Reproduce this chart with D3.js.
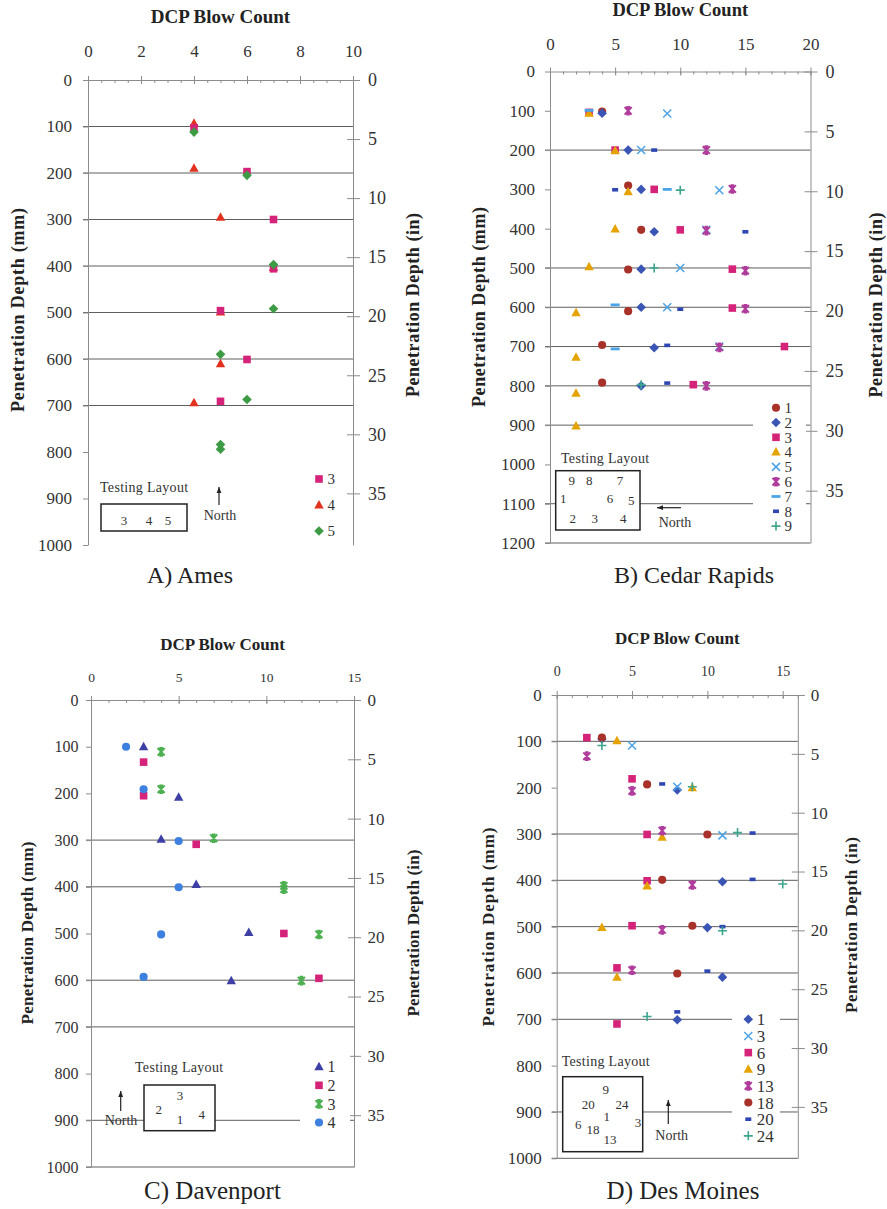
<!DOCTYPE html>
<html>
<head>
<meta charset="utf-8">
<script src="https://cdn.jsdelivr.net/npm/d3@7"></script>
<style>
  body { margin: 0; background: #fff; }
  svg { display: block; font-family: 'Liberation Serif', 'Times New Roman', serif; }
</style>
</head>
<body>
<script>
// ---- data: [blow count, penetration depth (mm)] ----
// A) Ames
const ames3 = [[4,103],[6,197],[7,300],[7,406],[5,496],[6,601],[5,691]];
const ames4 = [[4,93],[4,190],[5,295],[7,403],[5,499],[5,610],[4,694]];
const ames5 = [[4,112],[6,205],[7,397],[7,492],[5,590],[6,687],[5,784],[5,794]];

// B) Cedar Rapids
const cr1 = [[4,102],[6,290],[7,403],[6,504],[6,610],[4,696],[4,792]];
const cr2 = [[4,106],[6,200],[7,300],[8,408],[7,503],[7,600],[8,703],[7,800]];
const cr3 = [[3,104],[5,200],[8,300],[10,403],[14,503],[14,602],[18,700],[11,797]];
const cr4 = [[3,106],[5,202],[6,306],[5,401],[3,497],[2,614],[2,727],[2,819],[2,902]];
const cr5 = [[9,107],[7,200],[13,302],[12,403],[10,500],[9,600],[13,700]];
const cr6 = [[6,100],[12,200],[14,299],[12,405],[15,507],[15,604],[13,702],[12,800]];
const cr7 = [[3,99],[9,300],[5,594],[5,706]];
const cr8 = [[8,200],[5,301],[15,408],[10,605],[9,697],[9,793]];
const cr9 = [[10,302],[8,500],[7,797]];

// C) Davenport
const dv1 = [[3,100],[5,208],[4,298],[6,395],[9,498],[8,601]];
const dv2 = [[3,133],[3,205],[6,309],[11,500],[13,596]];
const dv3 = [[4,111],[4,191],[7,296],[11,398],[11,405],[13,502],[12,601]];
const dv4 = [[2,100],[3,191],[5,302],[5,401],[4,502],[3,593]];

// D) Des Moines
const dm1 = [[3,95],[8,205],[11,403],[10,502],[11,609],[8,701]];
const dm3 = [[5,109],[8,198],[11,303]];
const dm6 = [[2,92],[5,181],[6,301],[6,401],[5,498],[4,589],[4,710]];
const dm9 = [[4,99],[9,200],[7,307],[6,412],[3,502],[4,609]];
const dm13 = [[2,132],[5,207],[7,293],[9,410],[7,507],[5,594]];
const dm18 = [[3,92],[6,193],[10,301],[7,399],[9,498],[8,601]];
const dm20 = [[7,192],[13,298],[13,398],[11,500],[10,596],[8,684]];
const dm24 = [[3,109],[9,198],[12,297],[15,408],[11,509],[6,694]];

// horizontal lines visible in each panel (mm)
const amesGrid = [100, 200, 300, 400, 500, 600, 700];
const crGrid = [200, 500, 600, 700, 800, 900, 1100, 1200];
const dvGrid = [300, 400, 600, 700, 900, 1000];
const dmGrid = [100, 300, 400, 500, 600, 700, 900, 1000];

const inchTicks = [0, 5, 10, 15, 20, 25, 30, 35];

// ---- marker shapes ----
const shapes = {
  square: 'M-3.8,-3.8H3.8V3.8H-3.8Z',
  triangle: 'M0,-5L4.7,3.5H-4.7Z',
  diamond: 'M0,-4.8L4.8,0L0,4.8L-4.8,0Z',
  circle: d3.symbol(d3.symbolCircle, 52)(),
  x: 'M-4,-4L4,4M-4,4L4,-4',
  star: 'M-3.5,-3.8L3.5,3.8M-3.5,3.8L3.5,-3.8M-1.8,-3.8H1.8M-1.8,3.8H1.8M0,-3.8V3.8',
  plus: 'M-4.5,0H4.5M0,-4.5V4.5',
  dash: 'M-4.5,-1.4H4.5V1.4H-4.5Z',
  sdash: 'M-3,-1.8H3V1.8H-3Z'
};
const stroked = { x: 1.5, star: 2, plus: 1.6 };

const C = {
  pink: '#d6237a', red: '#e2321f', green: '#3d9b45', darkred: '#a8322a',
  blue: '#3b55b5', orange: '#e5a300', sky: '#4aa3e6', purple: '#b03c9c',
  navy: '#2f47b3', teal: '#3ea58f', indigo: '#3d3fa5', lime: '#4caf50', azure: '#3d80e0'
};

const width = 887, height = 1209;
const svg = d3.select('body').append('svg')
  .attr('width', width)
  .attr('height', height);

const panels = [
  {
    left: 88, right: 353, top: 80, bottom: 545, xMax: 10, xStep: 2, minor: 0.5, yMax: 1000,
    grid: amesGrid,
    titleY: 22.5, titleSize: 19, topLabY: 56.5, topSize: 17, leftSize: 17, leftPad: 16, rightSize: 18, rightPad: 15,
    yTitleL: [18, 310, 204], yTitleR: [413, 305, 184], yTitleSize: 18,
    name: 'A) Ames', nameX: 190, nameY: 583, nameSize: 24,
    series: [
      { label: '3', shape: 'square', color: C.pink, data: ames3 },
      { label: '4', shape: 'triangle', color: C.red, data: ames4 },
      { label: '5', shape: 'diamond', color: C.green, data: ames5 }
    ],
    drawOrder: [1, 0, 2],
    legend: { x: 319, y: 479, dy: 26, size: 15 },
    layout: {
      title: [100, 492], box: [101, 504, 86, 27],
      nums: [['3', 124, 525], ['4', 149, 525], ['5', 168, 525]],
      arrow: [219, 505, 219, 487], north: [220, 520]
    }
  },
  {
    left: 550, right: 810.5, top: 71.5, bottom: 543, xMax: 20, xStep: 5, minor: 1, yMax: 1200,
    grid: crGrid,
    titleY: 16, titleSize: 18.5, topLabY: 50, topSize: 17, leftSize: 17, leftPad: 15, rightSize: 18, rightPad: 15,
    yTitleL: [479, 307, 200], yTitleR: [876, 305, 185], yTitleSize: 18,
    name: 'B) Cedar Rapids', nameX: 694, nameY: 583, nameSize: 24,
    series: [
      { label: '1', shape: 'circle', color: C.darkred, data: cr1 },
      { label: '2', shape: 'diamond', color: C.blue, data: cr2 },
      { label: '3', shape: 'square', color: C.pink, data: cr3 },
      { label: '4', shape: 'triangle', color: C.orange, data: cr4 },
      { label: '5', shape: 'x', color: C.sky, data: cr5 },
      { label: '6', shape: 'star', color: C.purple, data: cr6 },
      { label: '7', shape: 'dash', color: C.sky, data: cr7 },
      { label: '8', shape: 'sdash', color: C.navy, data: cr8 },
      { label: '9', shape: 'plus', color: C.teal, data: cr9 }
    ],
    legendBg: [753, 398, 53, 138],
    legend: { x: 776, y: 407.7, dy: 14.8, size: 15 },
    layout: {
      title: [561, 463], box: [555.7, 470.7, 84.3, 59.3],
      nums: [['9', 571.7, 484.5], ['8', 589.3, 484.5], ['7', 620, 484.5],
             ['1', 563.3, 503], ['6', 610, 503], ['5', 631.3, 505],
             ['2', 572.7, 523], ['3', 594.7, 523], ['4', 623.3, 523]],
      arrow: [681, 507.7, 657, 507.7], north: [675, 527]
    }
  },
  {
    left: 91, right: 354, top: 700, bottom: 1167, xMax: 15, xStep: 5, minor: 1, yMax: 1000,
    grid: dvGrid,
    titleY: 650, titleSize: 17, topLabY: 682, topSize: 13.5, leftSize: 16, leftPad: 12.5, rightSize: 17, rightPad: 13.5,
    yTitleL: [27, 933, 183], yTitleR: [413, 933, 167], yTitleSize: 17,
    name: 'C) Davenport', nameX: 212.5, nameY: 1199, nameSize: 25,
    series: [
      { label: '1', shape: 'triangle', color: C.indigo, data: dv1 },
      { label: '2', shape: 'square', color: C.pink, data: dv2 },
      { label: '3', shape: 'star', color: C.lime, data: dv3 },
      { label: '4', shape: 'circle', color: C.azure, data: dv4 }
    ],
    legendBg: [300, 1052, 50, 82],
    legend: { x: 319, y: 1066.7, dy: 18.6, size: 16 },
    layout: {
      title: [135, 1072], box: [144, 1085, 71, 45.7],
      nums: [['3', 180, 1099.5], ['2', 158.7, 1113.8], ['1', 180, 1123.8], ['4', 201.7, 1118.8]],
      arrow: [120.7, 1111, 120.7, 1091], north: [121, 1124.5]
    }
  },
  {
    left: 556.7, right: 797.8, top: 695, bottom: 1158.3, xMax: 16, xStep: 5, minor: 1, yMax: 1000,
    grid: dmGrid,
    titleY: 644, titleSize: 17, topLabY: 676, topSize: 14, leftSize: 17, leftPad: 15, rightSize: 17, rightPad: 13,
    yTitleL: [488, 927, 199], yTitleR: [851, 925, 176], yTitleSize: 17,
    name: 'D) Des Moines', nameX: 683, nameY: 1199, nameSize: 25,
    series: [
      { label: '1', shape: 'diamond', color: C.blue, data: dm1 },
      { label: '3', shape: 'x', color: C.sky, data: dm3 },
      { label: '6', shape: 'square', color: C.pink, data: dm6 },
      { label: '9', shape: 'triangle', color: C.orange, data: dm9 },
      { label: '13', shape: 'star', color: C.purple, data: dm13 },
      { label: '18', shape: 'circle', color: C.darkred, data: dm18 },
      { label: '20', shape: 'sdash', color: C.navy, data: dm20 },
      { label: '24', shape: 'plus', color: C.teal, data: dm24 }
    ],
    legendBg: [732, 1008, 48, 140],
    legend: { x: 748.3, y: 1019.3, dy: 16.65, size: 17 },
    layout: {
      title: [561.7, 1066], box: [562.7, 1076.7, 80, 75],
      nums: [['9', 605.7, 1094], ['20', 588.3, 1109], ['24', 622, 1109], ['1', 606.7, 1120.5],
             ['6', 578.3, 1129], ['18', 593, 1133.5], ['3', 638, 1127], ['13', 610, 1144]],
      arrow: [668.3, 1124, 668.3, 1100], north: [671.7, 1139.5]
    }
  }
];

const axisColor = '#8c8c8c';
const gridColor = '#5e5e5e';
const ink = '#333';
const serif = "'Liberation Serif', 'Times New Roman', serif";

function drawMarker(sel, shape, color) {
  sel.attr('d', shapes[shape]);
  if (stroked[shape]) {
    sel.attr('fill', 'none').attr('stroke', color).attr('stroke-width', stroked[shape]);
  } else {
    sel.attr('fill', color).attr('stroke', 'none');
  }
}

function drawArrow(g, a) {
  const [x1, y1, x2, y2] = a;
  g.append('line')
    .attr('x1', x1).attr('y1', y1).attr('x2', x2).attr('y2', y2)
    .attr('stroke', '#222').attr('stroke-width', 1.2);
  const ang = Math.atan2(y2 - y1, x2 - x1) * 180 / Math.PI;
  g.append('path')
    .attr('d', 'M0,0L-6,-2.4L-6,2.4Z')
    .attr('fill', '#222')
    .attr('transform', `translate(${x2},${y2}) rotate(${ang})`);
}

panels.forEach(p => {
  const g = svg.append('g');
  const x = d3.scaleLinear().domain([0, p.xMax]).range([p.left, p.right]);
  const y = d3.scaleLinear().domain([0, p.yMax]).range([p.top, p.bottom]);
  const yIn = d3.scaleLinear().domain([0, 1000 / 25.4]).range([p.top, p.bottom]);

  // horizontal lines
  g.append('g').selectAll('line')
    .data(p.grid)
    .join('line')
    .attr('x1', p.left - 5).attr('x2', p.right)
    .attr('y1', d => y(d)).attr('y2', d => y(d))
    .attr('stroke', gridColor).attr('stroke-width', 1);

  // left axis (mm)
  const left = g.append('g')
    .attr('transform', `translate(${p.left},0)`)
    .call(d3.axisLeft(y)
      .tickValues(d3.range(0, p.yMax + 1, 100))
      .tickFormat(d3.format('d'))
      .tickSize(5).tickSizeOuter(0).tickPadding(p.leftPad - 5));
  left.selectAll('.tick text').attr('font-size', p.leftSize);

  // top axis (blow count)
  const top = g.append('g')
    .attr('transform', `translate(0,${p.top})`)
    .call(d3.axisTop(x)
      .tickValues(d3.range(0, p.xMax + 0.01, p.xStep).filter(v => v <= 20))
      .tickSize(4).tickSizeOuter(0).tickPadding(p.top - p.topLabY - 4));
  top.selectAll('.tick line').attr('y1', 4);
  top.selectAll('.tick text').attr('font-size', p.topSize);
  g.append('g')
    .attr('transform', `translate(0,${p.top})`)
    .call(d3.axisTop(x)
      .tickValues(d3.range(0, p.xMax + 0.01, p.minor))
      .tickSize(-3).tickSizeOuter(0).tickFormat(''))
    .select('.domain').remove();

  // right axis (in)
  const right = g.append('g')
    .attr('transform', `translate(${p.right},0)`)
    .call(d3.axisRight(yIn)
      .tickValues(inchTicks)
      .tickSize(7).tickSizeOuter(0).tickPadding(p.rightPad - 7));
  right.selectAll('.tick line').attr('x1', -6);
  right.selectAll('.tick text').attr('font-size', p.rightSize);

  [left, top, right].forEach(a => {
    a.attr('font-family', serif);
    a.selectAll('.tick text').attr('fill', ink).attr('font-family', serif);
  });
  g.selectAll('.domain, .tick line').attr('stroke', axisColor);

  // titles
  g.append('text')
    .attr('x', (p.left + p.right) / 2).attr('y', p.titleY)
    .attr('text-anchor', 'middle').attr('font-weight', 'bold')
    .attr('font-size', p.titleSize).attr('fill', '#222')
    .text('DCP Blow Count');

  [[p.yTitleL, 'Penetration Depth (mm)'], [p.yTitleR, 'Penetration Depth (in)']].forEach(([t, s]) => {
    g.append('text')
      .attr('transform', `translate(${t[0]},${t[1]}) rotate(-90)`)
      .attr('text-anchor', 'middle').attr('dy', '0.35em')
      .attr('font-weight', 'bold').attr('font-size', p.yTitleSize).attr('fill', '#222')
      .attr('textLength', t[2]).attr('lengthAdjust', 'spacing')
      .text(s);
  });

  g.append('text')
    .attr('x', p.nameX).attr('y', p.nameY)
    .attr('text-anchor', 'middle').attr('font-size', p.nameSize).attr('fill', '#222')
    .text(p.name);

  // testing layout sketch
  const L = p.layout;
  g.append('text')
    .attr('x', L.title[0]).attr('y', L.title[1])
    .attr('font-size', 14).attr('fill', ink).attr('letter-spacing', 0.3)
    .text('Testing Layout');
  g.append('rect')
    .attr('x', L.box[0]).attr('y', L.box[1]).attr('width', L.box[2]).attr('height', L.box[3])
    .attr('fill', '#fff').attr('stroke', '#222').attr('stroke-width', 1.5);
  g.append('g').selectAll('text')
    .data(L.nums)
    .join('text')
    .attr('x', d => d[1]).attr('y', d => d[2])
    .attr('text-anchor', 'middle').attr('font-size', 13).attr('fill', ink)
    .text(d => d[0]);
  drawArrow(g, L.arrow);
  g.append('text')
    .attr('x', L.north[0]).attr('y', L.north[1])
    .attr('text-anchor', 'middle').attr('font-size', 14).attr('fill', ink)
    .text('North');

  if (p.legendBg) {
    g.append('rect')
      .attr('x', p.legendBg[0]).attr('y', p.legendBg[1])
      .attr('width', p.legendBg[2]).attr('height', p.legendBg[3])
      .attr('fill', '#fff');
  }

  // markers
  const order = p.drawOrder || d3.range(p.series.length);
  order.forEach(i => {
    const s = p.series[i];
    g.append('g').selectAll('path')
      .data(s.data)
      .join('path')
      .attr('transform', d => `translate(${x(d[0])},${y(d[1])})`)
      .call(drawMarker, s.shape, s.color);
  });

  // legend
  const lg = g.append('g').selectAll('g')
    .data(p.series)
    .join('g')
    .attr('transform', (d, i) => `translate(${p.legend.x},${p.legend.y + i * p.legend.dy})`);
  lg.append('path').each(function (d) { d3.select(this).call(drawMarker, d.shape, d.color); });
  lg.append('text')
    .attr('x', 8.5).attr('dy', '0.35em')
    .attr('font-size', p.legend.size).attr('fill', ink)
    .text(d => d.label);
});
</script>
</body>
</html>
